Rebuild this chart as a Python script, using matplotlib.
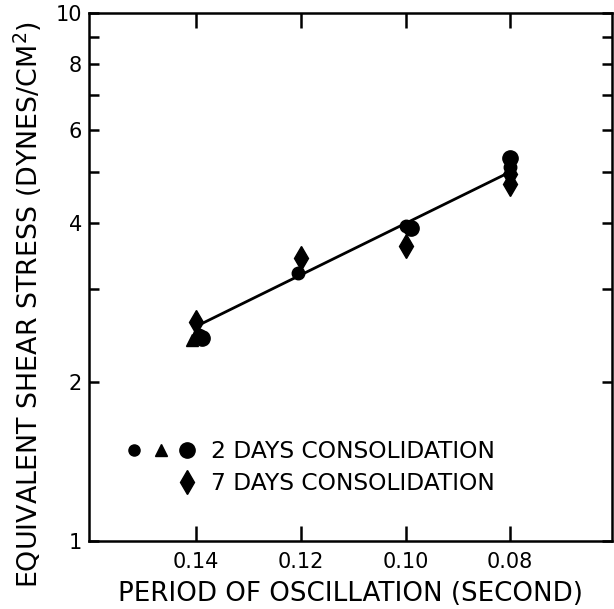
import matplotlib
matplotlib.use("Agg")
import matplotlib.pyplot as plt
from matplotlib.lines import Line2D
from matplotlib.legend_handler import HandlerTuple

# ---- data ----
# 2 days consolidation, three test series
small_circle_x = [0.1395, 0.1205, 0.1000, 0.0800]
small_circle_y = [2.45, 3.22, 3.95, 5.10]
triangle_x = [0.1408]
triangle_y = [2.40]
big_circle_x = [0.1390, 0.0990, 0.0800]
big_circle_y = [2.42, 3.92, 5.32]
# 7 days consolidation
diamond_x = [0.1400, 0.1200, 0.1000, 0.0800, 0.0800]
diamond_y = [2.60, 3.43, 3.62, 4.95, 4.75]
# fitted line
fit_x = [0.14, 0.08]
fit_y = [2.55, 5.00]

x_ticks = [0.14, 0.12, 0.10, 0.08]
x_ticklabels = ["0.14", "0.12", "0.10", "0.08"]
y_ticks = [1, 2, 3, 4, 5, 6, 7, 8, 9, 10]
y_ticklabels = ["1", "2", "", "4", "", "6", "", "8", "", "10"]

plt.rcParams['font.family'] = ['DejaVu Sans']

fig = plt.figure(figsize=(6.14, 6.09), dpi=100)
ax = fig.add_axes([0.145, 0.1117, 0.852, 0.867])

ax.plot(fit_x, fit_y, color='black', lw=2.0, zorder=2)
ax.plot(small_circle_x, small_circle_y, 'o', color='black', ms=9, zorder=3)
ax.plot(triangle_x, triangle_y, '^', color='black', ms=9, zorder=3)
ax.plot(big_circle_x, big_circle_y, 'o', color='black', ms=11, zorder=3)
ax.plot(diamond_x, diamond_y, 'd', color='black', ms=12, zorder=3)

ax.set_yscale('log')
ax.set_ylim(1, 10)
ax.set_xlim(0.1605, 0.0605)
ax.set_yticks(y_ticks)
ax.set_yticklabels(y_ticklabels)
ax.yaxis.set_minor_locator(matplotlib.ticker.NullLocator())
ax.set_xticks(x_ticks)
ax.set_xticklabels(x_ticklabels)

for s in ax.spines.values():
    s.set_linewidth(1.8)
ax.tick_params(axis='x', direction='in', length=11, width=1.8, top=True,
               labelsize=15, pad=8)
ax.tick_params(axis='y', direction='in', length=7.5, width=1.8, right=True,
               labelsize=15, pad=5)

ax.set_xlabel("PERIOD OF OSCILLATION (SECOND)", fontsize=18.8)
ax.xaxis.set_label_coords(0.5, -0.075)
ax.set_ylabel("EQUIVALENT SHEAR STRESS (DYNES/CM$^2$)", fontsize=19.4)
ax.yaxis.set_label_coords(-0.086, 0.447)

blank = Line2D([], [], linestyle='none', marker=None)
h_small = Line2D([], [], linestyle='none', marker='o', color='black', ms=8)
h_tri = Line2D([], [], linestyle='none', marker='^', color='black', ms=9)
h_big = Line2D([], [], linestyle='none', marker='o', color='black', ms=11)
h_dia = Line2D([], [], linestyle='none', marker='d', color='black', ms=12)
ax.legend([(h_small, h_tri, h_big), (blank, blank, h_dia)],
          ["2 DAYS CONSOLIDATION", "7 DAYS CONSOLIDATION"],
          handler_map={tuple: HandlerTuple(ndivide=None, pad=0.5)},
          loc='upper left', bbox_to_anchor=(0.072, 0.191), frameon=False,
          fontsize=16.8, handlelength=2.9, handletextpad=0.72,
          labelspacing=0.4, borderpad=0, borderaxespad=0)

fig.savefig("out.png", dpi=100)
